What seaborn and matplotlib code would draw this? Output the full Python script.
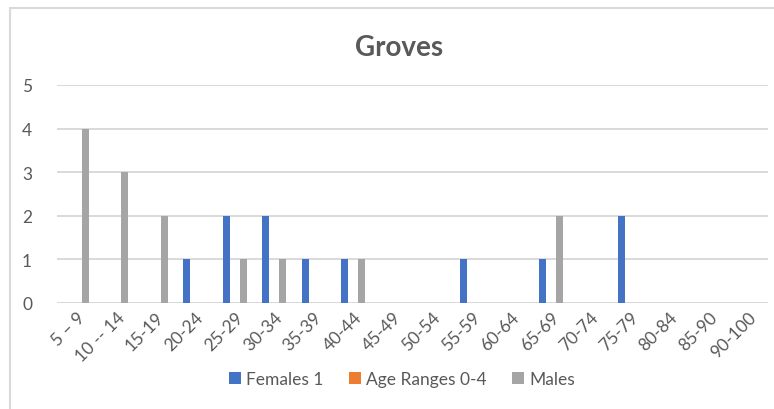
import pandas as pd
import matplotlib.pyplot as plt
import seaborn as sns
from matplotlib.lines import Line2D
from matplotlib.patches import Patch

# -------------------------------
# Data
# -------------------------------
age_ranges = ["5 – 9", "10 -- 14", "15-19", "20-24", "25-29", "30-34", "35-39",
              "40-44", "45-49", "50-54", "55-59", "60-64", "65-69", "70-74",
              "75-79", "80-84", "85-90", "90-100"]
females = [0, 0, 0, 1, 2, 2, 1, 1, 0, 0, 1, 0, 1, 0, 2, 0, 0, 0]
age_0_4 = [0] * len(age_ranges)
males = [4, 3, 2, 0, 1, 1, 0, 1, 0, 0, 0, 0, 2, 0, 0, 0, 0, 0]

series_names = ["Females 1", "Age Ranges 0-4", "Males"]
colors = ["#4472C4", "#ED7D31", "#A5A5A5"]

df = pd.concat([
    pd.DataFrame({"Age": age_ranges, "Count": females, "Series": series_names[0]}),
    pd.DataFrame({"Age": age_ranges, "Count": age_0_4, "Series": series_names[1]}),
    pd.DataFrame({"Age": age_ranges, "Count": males, "Series": series_names[2]}),
])

# -------------------------------
# Plot
# -------------------------------
sns.set_style("white")
plt.rcParams['font.family'] = ['Lato', 'DejaVu Sans']
text_col = "#595959"

fig = plt.figure(figsize=(7.74, 4.10), dpi=100)
ax = fig.add_axes([57 / 774, 1 - 304 / 410, (768 - 57) / 774, (304 - 86) / 410])

sns.barplot(data=df, x="Age", y="Count", hue="Series", palette=colors,
            width=0.645, gap=0.21, ax=ax, legend=False, linewidth=0, saturation=1)

ax.set_ylim(0, 5)
ax.set_xlim(-0.5, len(age_ranges) - 0.5)
ax.set_yticks(range(0, 6))
ax.yaxis.grid(True, color="#D9D9D9", linewidth=1.4)
ax.set_axisbelow(True)
for s in ax.spines.values():
    s.set_visible(False)
ax.axhline(0, color="#D9D9D9", linewidth=1.4, zorder=0.5)

ax.set_xlabel("")
ax.set_ylabel("")
ax.tick_params(axis="y", length=0, pad=18, labelsize=12.5, labelcolor=text_col)
ax.tick_params(axis="x", length=0, pad=4, labelsize=12.5, labelcolor=text_col)
plt.setp(ax.get_xticklabels(), rotation=45, ha="right", rotation_mode="anchor")

fig.text(399 / 774, 1 - 48 / 410, "Groves", ha="center", va="center",
         fontsize=20, fontweight="bold", color=text_col)

handles = [Patch(facecolor=c, edgecolor="none") for c in colors]
leg = fig.legend(handles, series_names, loc="center", bbox_to_anchor=(402 / 774, 1 - 380 / 410),
                 ncol=3, frameon=False, fontsize=12.5, handlelength=0.65, handleheight=0.65,
                 handletextpad=0.3, columnspacing=1.5)
for t in leg.get_texts():
    t.set_color(text_col)

# chart border (light gray, cut at right/bottom like the screenshot)
fig.add_artist(Line2D([10 / 774, 10 / 774], [0, 1 - 9 / 410], color="#D9D9D9",
                      linewidth=1.5, transform=fig.transFigure))
fig.add_artist(Line2D([10 / 774, 1], [1 - 9 / 410, 1 - 9 / 410], color="#D9D9D9",
                      linewidth=1.5, transform=fig.transFigure))

fig.savefig("out.png", dpi=100)
